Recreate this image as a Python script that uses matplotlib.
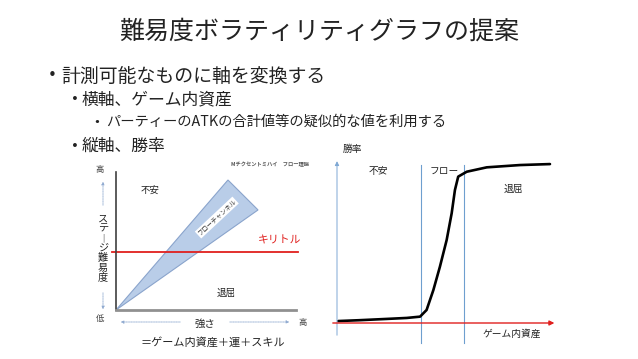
import matplotlib
matplotlib.use("Agg")
import matplotlib.pyplot as plt
from matplotlib.patches import Polygon, FancyArrowPatch

plt.rcParams['font.family'] = ['Noto Sans CJK JP', 'DejaVu Sans']

# ---- data ----
title = "難易度ボラティリティグラフの提案"
bullets = [
    (0, "計測可能なものに軸を変換する"),
    (1, "横軸、ゲーム内資産"),
    (2, "パーティーのATKの合計値等の疑似的な値を利用する"),
    (1, "縦軸、勝率"),
]

# left diagram (flow theory): strength (x) vs stage difficulty (y), 0-100
channel_x = [0, 62.2, 78.9]
channel_y = [0, 94.2, 72.5]
kiritoru_level = 42
left_regions = ["不安", "退屈"]

# right diagram: game assets (x) vs win rate (y), 0-100
asset = [0.6, 10, 22.8, 32, 38.1, 41.1, 44.2, 47.2, 50.3, 52.6, 54.1, 55.6, 59.5, 68.7, 83.9, 97.7]
winrate = [1.2, 1.7, 2.5, 3.1, 3.9, 8.0, 20.2, 34.5, 50.9, 67.3, 81.6, 89.8, 92.8, 95.5, 96.9, 97.5]
flow_bounds = [38.5, 58.3]
right_regions = ["不安", "フロー", "退屈"]

W, H = 638, 359
fig = plt.figure(figsize=(W / 100, H / 100), dpi=100)

def fx(px):
    return px / W

def fy(py):
    return 1 - py / H

TXT = '#222222'

# ---- slide text ----
fig.text(fx(319), fy(32), title, ha='center', va='center', fontsize=18, color=TXT)
bullet_cfg = {0: (52, 61, 13.6), 1: (75, 82, 12.1), 2: (97, 106, 10.3)}
ys = [76, 100, 122, 146]
for (lvl, txt), y in zip(bullets, ys):
    bx, tx, fs = bullet_cfg[lvl]
    fig.text(fx(bx), fy(y), "•", ha='center', va='center', fontsize=fs * 0.8,
             color=TXT, family='DejaVu Sans')
    fig.text(fx(tx), fy(y), txt, ha='left', va='center', fontsize=fs, color=TXT)

# ---- left diagram ----
L0, R0, T0, B0 = 116, 296, 172, 310
axl = fig.add_axes([fx(L0), fy(B0), (R0 - L0) / W, (B0 - T0) / H])
axl.set_xlim(0, 100)
axl.set_ylim(0, 100)
for s in ['top', 'right']:
    axl.spines[s].set_visible(False)
axl.spines['left'].set_color('#404040')
axl.spines['left'].set_linewidth(1.2)
axl.spines['bottom'].set_color('#909090')
axl.spines['bottom'].set_linewidth(2.0)
axl.set_xticks([])
axl.set_yticks([])
axl.patch.set_alpha(0)
axl.add_patch(Polygon(list(zip(channel_x, channel_y)), closed=True,
                      facecolor='#B9CDE8', edgecolor='#8AA4CC', linewidth=0.8))
axl.plot([-2, 101], [kiritoru_level, kiritoru_level], color='#E0201E', lw=1.3, clip_on=False)
axl.text(19, 87, left_regions[0], fontsize=6.8, ha='center', va='center', color=TXT)
axl.text(61, 12, left_regions[1], fontsize=6.8, ha='center', va='center', color=TXT)
axl.text(91, 50, "キリトル", fontsize=7.8, ha='center', va='center', color='#E0201E')
axl.text(56, 67, "フローチャンネル", fontsize=4.5, ha='center', va='center', rotation=43,
         color='#333333', bbox=dict(facecolor='white', edgecolor='none', pad=0.5))

# annotations around left diagram
fig.text(fx(100), fy(170), "高", fontsize=6, ha='center', va='center', color='#444444')
fig.text(fx(100), fy(318), "低", fontsize=6, ha='center', va='center', color='#444444')
fig.text(fx(303), fy(323), "高", fontsize=6, ha='center', va='center', color='#444444')
fig.text(fx(205), fy(324), "強さ", fontsize=7.5, ha='center', va='center', color=TXT)
fig.text(fx(213), fy(342), "＝ゲーム内資産＋運＋スキル", fontsize=8.0, ha='center', va='center', color=TXT)
vert_label = "\n".join(["ス", "テ", "︱", "ジ", "難", "易", "度"])
fig.text(fx(103), fy(248), vert_label, fontsize=7.3, ha='center', va='center',
         linespacing=0.98, color=TXT)
fig.text(fx(270), fy(165), "Mチクセントミハイ　フロー理論", fontsize=3.8, ha='center',
         va='center', color='#555555', fontweight='bold')
arrow_kw = dict(arrowstyle='-|>', mutation_scale=4, color='#8FAAD0', lw=0.6,
                linestyle=(0, (1, 1)), transform=fig.transFigure)
fig.patches.append(FancyArrowPatch((fx(183), fy(322)), (fx(118), fy(322)), **arrow_kw))
fig.patches.append(FancyArrowPatch((fx(227), fy(322)), (fx(292), fy(322)), **arrow_kw))
fig.patches.append(FancyArrowPatch((fx(103), fy(208)), (fx(103), fy(179)), **arrow_kw))
fig.patches.append(FancyArrowPatch((fx(103), fy(290)), (fx(103), fy(312)), **arrow_kw))

# ---- right diagram ----
L1, R1, T1, B1 = 337, 555, 160, 323
axr = fig.add_axes([fx(L1), fy(B1), (R1 - L1) / W, (B1 - T1) / H])
axr.set_xlim(0, 100)
axr.set_ylim(0, 100)
axr.axis('off')
for xb in flow_bounds:
    axr.plot([xb, xb], [-12.3, 96.9], color='#6E9FCF', lw=0.8, clip_on=False)
axr.annotate("", xy=(0, 101), xytext=(0, -9.2), annotation_clip=False,
             arrowprops=dict(arrowstyle='-|>', color='#7FA8D4', lw=0.7, mutation_scale=6))
axr.annotate("", xy=(101, 0), xytext=(-3.2, 0), annotation_clip=False,
             arrowprops=dict(arrowstyle='-|>', color='#E0201E', lw=1.0, mutation_scale=7))
axr.plot(asset, winrate, color='black', lw=1.9, solid_capstyle='round',
         solid_joinstyle='round', clip_on=False)
axr.text(19, 93, right_regions[0], fontsize=7, ha='center', va='center', color=TXT)
axr.text(49, 93, right_regions[1], fontsize=7, ha='center', va='center', color=TXT)
axr.text(81, 82, right_regions[2], fontsize=7, ha='center', va='center', color=TXT)
axr.text(80, -6.5, "ゲーム内資産", fontsize=7, ha='center', va='center', color=TXT)
axr.text(7, 107, "勝率", fontsize=7, ha='center', va='center', color=TXT)

fig.savefig("out.png", dpi=100)
